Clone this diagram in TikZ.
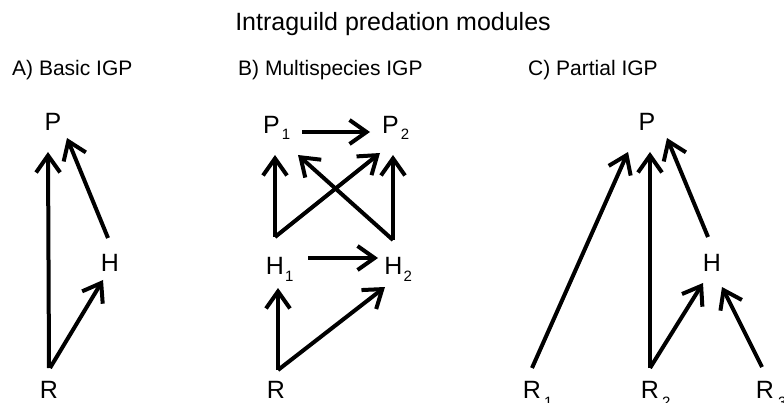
\documentclass[tikz,border=0pt]{standalone}
\usepackage{fontspec}
\setmainfont{Liberation Sans}
\usetikzlibrary{arrows.meta}
\newcommand{\ssub}[3]{\rlap{\smash{\raisebox{-#1}{\fontsize{15}{15}\selectfont\hspace{#2}#3}}}}
\begin{document}
\begin{tikzpicture}[x=1pt,y=-1pt,
  ttl/.style={anchor=base,inner sep=0pt,font=\fontsize{25}{25}\selectfont},
  lbl/.style={anchor=base west,inner sep=0pt,font=\fontsize{21}{21}\selectfont},
  sp/.style={anchor=base,inner sep=0pt,font=\fontsize{25}{25}\selectfont},
  arr/.style={line width=4pt,-{Straight Barb[length=17pt,width=24pt,line cap=butt,line join=miter]}}]
\useasboundingbox (0,0) rectangle (784,403);
\node[ttl] (title) at (393,31) {Intraguild predation modules};
\node[lbl] (la) at (12,76) {A) Basic IGP};
\node[lbl] (lb) at (238,76) {B) Multispecies IGP};
\node[lbl] (lc) at (528,76) {C) Partial IGP};
% Panel A
\node[sp] (pA) at (53,131) {P};
\node[sp] (hA) at (110,272) {H};
\node[sp] (rA) at (49,398) {R};
\draw[arr] ([shift={(0,-30)}]rA.base) -- ([shift={(-5,21)}]pA.base);
\draw[arr] ([shift={(-2,-34)}]hA.base) -- ([shift={(14,7)}]pA.base);
\draw[arr] ([shift={(1,-30)}]rA.base) -- ([shift={(-7,8)}]hA.base);
% Panel B
\node[sp] (p1) at (271.5,134) {P\ssub{6pt}{2pt}{1}};
\node[sp] (p2) at (390.5,134) {P\ssub{6pt}{2pt}{2}};
\node[sp] (h1) at (275,275) {H\ssub{6pt}{1pt}{1}};
\node[sp] (h2) at (393.5,275) {H\ssub{6pt}{1pt}{2}};
\node[sp] (rB) at (276,398) {R};
\draw[arr] ([shift={(30.5,-2)}]p1.base) -- ([shift={(-20.5,-2)}]p2.base);
\draw[arr] ([shift={(33,-17)}]h1.base) -- ([shift={(-15.5,-17)}]h2.base);
\draw[arr] ([shift={(2,-28)}]rB.base) -- ([shift={(3,13)}]h1.base);
\draw[arr] ([shift={(2,-28)}]rB.base) -- ([shift={(-8.5,12)}]h2.base);
\draw[arr] ([shift={(0,-38)}]h1.base) -- ([shift={(3.5,21)}]p1.base);
\draw[arr] ([shift={(0,-38)}]h1.base) -- ([shift={(-10.5,19)}]p2.base);
\draw[arr] ([shift={(-0.5,-35)}]h2.base) -- ([shift={(2.5,21)}]p2.base);
\draw[arr] ([shift={(-0.5,-35)}]h2.base) -- ([shift={(26.5,21)}]p1.base);
% Panel C
\node[sp] (pC) at (647,131) {P};
\node[sp] (hC) at (712,272) {H};
\node[sp] (r1) at (532,398) {R\ssub{9pt}{3pt}{1}};
\node[sp] (r2) at (650,398) {R\ssub{9pt}{3pt}{2}};
\node[sp] (r3) at (765,398) {R\ssub{9pt}{4pt}{3}};
\draw[arr] ([shift={(0,-30)}]r1.base) -- ([shift={(-19,21)}]pC.base);
\draw[arr] ([shift={(0,-30)}]r2.base) -- ([shift={(3,21)}]pC.base);
\draw[arr] ([shift={(0,-30)}]r2.base) -- ([shift={(-9,11)}]hC.base);
\draw[arr] ([shift={(-4,-35)}]hC.base) -- ([shift={(20,7)}]pC.base);
\draw[arr] ([shift={(-3,-31)}]r3.base) -- ([shift={(10,15)}]hC.base);
\end{tikzpicture}
\end{document}
